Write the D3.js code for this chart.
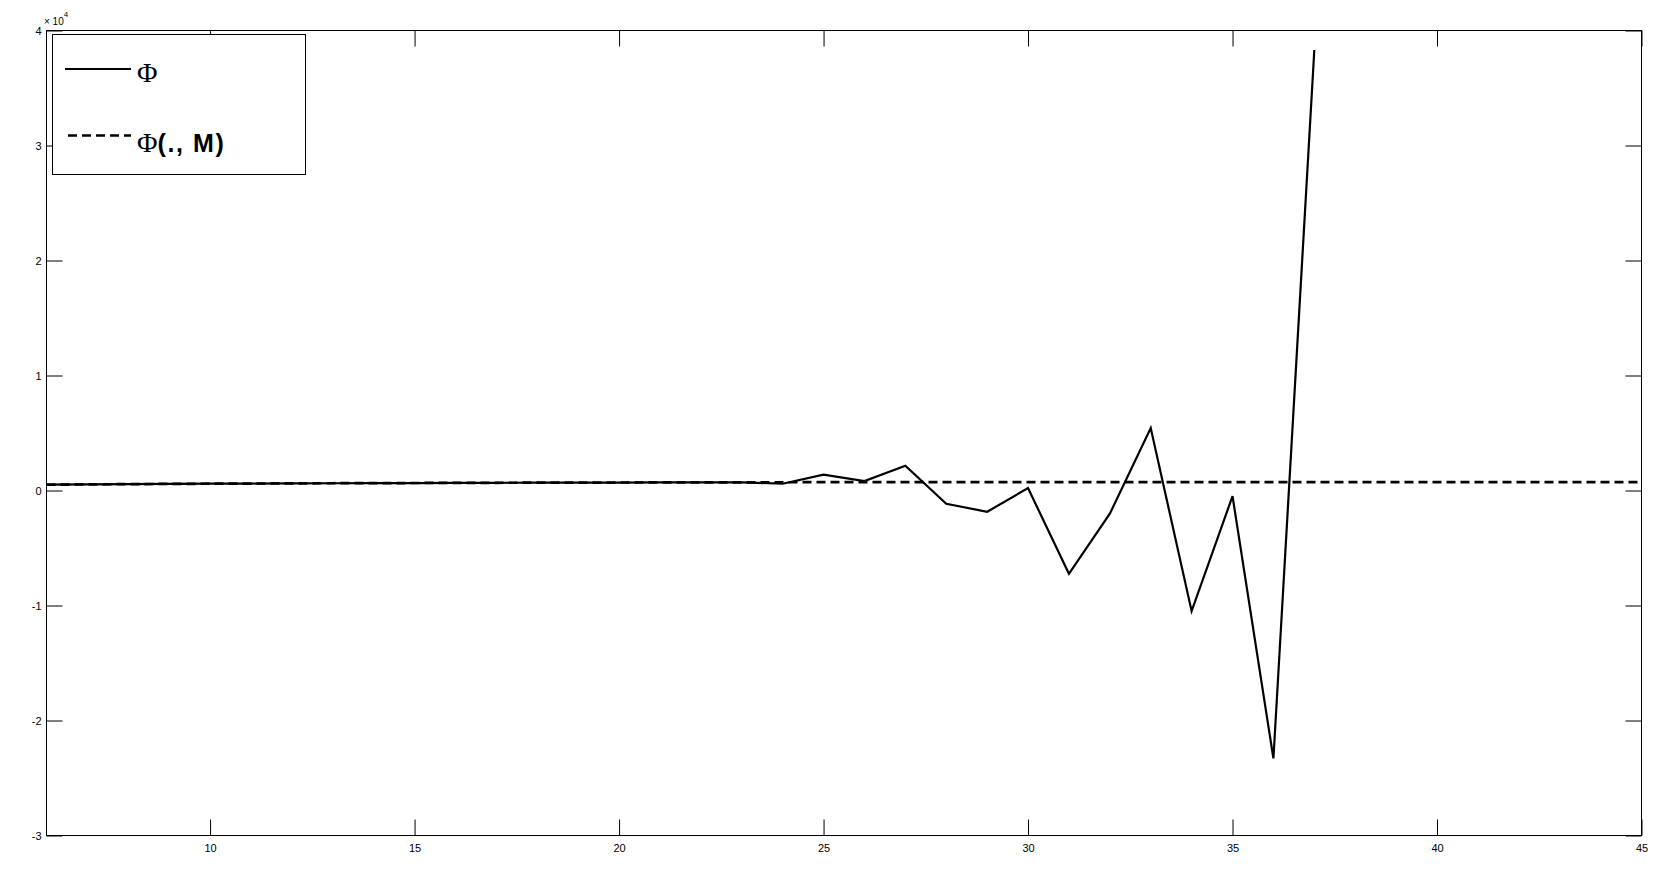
<!DOCTYPE html>
<html>
<head>
<meta charset="utf-8">
<script src="https://cdn.jsdelivr.net/npm/d3@7"></script>
<style>
  html, body { margin: 0; padding: 0; background: #fff; }
  svg { display: block; }
  .tick text { font-family: Arial, "Liberation Sans", sans-serif; font-size: 11px; fill: #000; }
</style>
</head>
<body>
<svg id="chart" width="1668" height="875"></svg>
<script>
// ---- data ----
const phiX = [6,7,8,9,10,11,12,13,14,15,16,17,18,19,20,21,22,23,24,25,26,27,28,29,30,31,32,33,34,35,36,37];
const phiY = [505,530,555,575,590,605,620,630,640,650,660,670,678,686,693,700,706,712,590,1375,820,2160,-1150,-1850,210,-7240,-2020,5430,-10490,-490,-23300,38300];
const phiMX = [6,7,8,9,10,11,12,13,14,15,16,17,18,19,20,21,22,23,24,25,26,27,28,29,30,31,32,33,34,35,36,37,38,39,40,41,42,43,44,45];
const phiMY = [500,530,555,575,590,605,620,632,642,652,662,671,680,688,695,702,708,713,718,722,725,727,729,730,730,731,731,732,732,733,733,733,734,734,734,735,735,735,735,735];
const xTicks = [10,15,20,25,30,35,40,45];
const yTicks = [-30000,-20000,-10000,0,10000,20000,30000,40000];
const yTickLabels = ["-3","-2","-1","0","1","2","3","4"];
const legendLabels = ["\u03A6", "(., M)"];

// ---- layout ----
const L = 46.5, R = 1641.5, T = 30.5, B = 835.5;
const svg = d3.select("#chart");
const x = d3.scaleLinear().domain([6, 45]).range([L, R]);
const y = d3.scaleLinear().domain([-30000, 40000]).range([B, T]);

// axes (MATLAB-style box with inward ticks on all sides)
const ax = svg.append("g");
ax.append("g").attr("transform", `translate(0,${B})`)
  .call(d3.axisBottom(x).tickValues(xTicks).tickSizeInner(-16).tickSizeOuter(0).tickPadding(9).tickFormat(d3.format("d")))
  .call(g => g.select(".domain").remove());
ax.append("g").attr("transform", `translate(0,${T})`)
  .call(d3.axisTop(x).tickValues(xTicks).tickSizeInner(-16).tickSizeOuter(0).tickFormat(""))
  .call(g => g.select(".domain").remove());
ax.append("g").attr("transform", `translate(${L},0)`)
  .call(d3.axisLeft(y).tickValues(yTicks).tickSizeInner(-16).tickSizeOuter(0).tickPadding(5).tickFormat((d, i) => yTickLabels[i]))
  .call(g => g.select(".domain").remove());
ax.append("g").attr("transform", `translate(${R},0)`)
  .call(d3.axisRight(y).tickValues(yTicks).tickSizeInner(-16).tickSizeOuter(0).tickFormat(""))
  .call(g => g.select(".domain").remove());
ax.selectAll(".tick line").attr("stroke", "#000").attr("stroke-width", 1);

svg.append("rect").attr("x", L).attr("y", T).attr("width", R - L).attr("height", B - T)
  .attr("fill", "none").attr("stroke", "#000").attr("stroke-width", 1);

// exponent label
const ex = svg.append("text").attr("x", 44).attr("y", 25)
  .attr("font-family", "Arial, 'Liberation Sans', sans-serif").attr("font-size", 10);
ex.append("tspan").text("\u00D7 10");
ex.append("tspan").attr("dy", -8).attr("font-size", 8).text("4");

// lines
const line = d3.line().x(d => x(d[0])).y(d => y(d[1]));
svg.append("path").datum(phiX.map((v, i) => [v, phiY[i]]))
  .attr("d", line).attr("fill", "none").attr("stroke", "#000").attr("stroke-width", 2.2)
  .attr("stroke-linejoin", "miter");
svg.append("path").datum(phiMX.map((v, i) => [v, phiMY[i]]))
  .attr("d", line).attr("fill", "none").attr("stroke", "#000").attr("stroke-width", 2.7)
  .attr("stroke-dasharray", "9,5");

// legend
const lg = svg.append("g");
lg.append("rect").attr("x", 52.5).attr("y", 34.5).attr("width", 253).attr("height", 140)
  .attr("fill", "#fff").attr("stroke", "#000").attr("stroke-width", 1);
lg.append("line").attr("x1", 65).attr("x2", 131).attr("y1", 69).attr("y2", 69)
  .attr("stroke", "#000").attr("stroke-width", 1.8);
lg.append("line").attr("x1", 68).attr("x2", 131).attr("y1", 135.5).attr("y2", 135.5)
  .attr("stroke", "#000").attr("stroke-width", 2.7).attr("stroke-dasharray", "9,5");
lg.append("text").attr("x", 137).attr("y", 82)
  .attr("font-family", "'Liberation Serif', 'DejaVu Serif', serif").attr("font-size", 28)
  .text(legendLabels[0]);
const t2 = lg.append("text").attr("x", 137).attr("y", 152)
  .attr("font-family", "'Liberation Serif', 'DejaVu Serif', serif").attr("font-size", 28);
t2.append("tspan").text(legendLabels[0]);
t2.append("tspan").attr("font-family", "Arial, 'Liberation Sans', sans-serif")
  .attr("font-weight", "bold").attr("font-size", 25).attr("letter-spacing", 1.6).text(legendLabels[1]);
</script>
</body>
</html>
